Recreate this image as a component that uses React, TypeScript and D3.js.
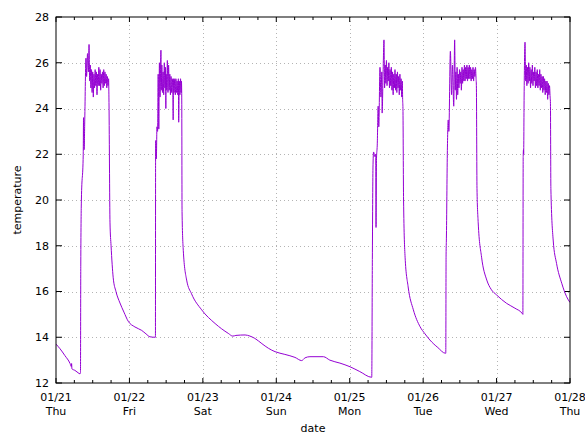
import React from "react";
import * as d3 from "d3";

// hours since 2021-01-21 00:00, temperature
const coolThu: [number, number][] = [
  [0, 13.7], [1.3, 13.5], [2.9, 13.2], [4.6, 12.85], [5.0, 12.72], [5.1, 12.85], [5.2, 12.62],
  [6.2, 12.55], [7.2, 12.45], [7.85, 12.4], [8.0, 12.45],
];
const heatThu: [number, number][] = [
  [8.1, 17.2], [8.3, 20.0], [8.9, 22.0], [9.0, 23.6], [9.2, 22.2], [9.4, 23.5], [9.8, 26.2],
  [10.0, 25.4], [10.3, 26.4], [10.6, 25.6], [10.8, 26.8],
  [11.0, 25.2], [11.2, 25.9], [11.4, 24.9], [11.6, 25.7], [11.8, 24.7], [12.0, 25.6], [12.2, 24.5],
  [12.4, 25.5], [12.6, 24.9], [12.8, 25.7], [13.0, 25.0], [13.2, 25.6], [13.4, 24.6], [13.6, 25.5],
  [13.8, 25.0], [14.0, 25.8], [14.2, 25.0], [14.4, 25.7], [14.6, 24.8], [14.8, 25.5], [15.0, 25.1],
  [15.2, 25.6], [15.4, 24.9], [15.6, 25.7], [15.8, 25.0], [16.0, 25.6], [16.2, 25.1], [16.4, 25.5],
  [16.6, 24.9], [16.8, 25.4], [17.0, 25.0], [17.2, 25.3], [17.3, 24.5],
];
const coolFri: [number, number][] = [
  [17.65, 19.0], [18.0, 18.0], [18.7, 16.6], [19.6, 16.0], [20.9, 15.5], [22.2, 15.1], [23.6, 14.7],
  [25.8, 14.45], [28.0, 14.3], [29.4, 14.15], [30.7, 14.02], [32.4, 14.0], [32.5, 14.0],
];
const heatFri: [number, number][] = [
  [32.55, 21.7], [32.6, 22.6], [32.8, 21.8], [33.0, 23.2], [33.2, 23.0], [33.4, 25.5], [33.6, 23.1],
  [33.8, 26.0], [34.0, 24.5], [34.3, 26.55],
  [34.4, 24.8], [34.6, 25.9], [34.8, 24.7], [35.0, 25.6], [35.2, 24.6], [35.4, 26.0], [35.6, 24.9],
  [35.8, 25.8], [35.9, 24.0], [36.0, 25.5], [36.2, 24.8], [36.4, 26.1], [36.6, 24.7], [36.8, 25.9],
  [37.0, 24.8], [37.2, 25.5], [37.4, 24.6], [37.6, 25.4], [37.8, 24.7], [38.0, 25.3], [38.2, 24.6],
  [38.3, 23.5], [38.4, 25.3], [38.6, 24.7], [38.8, 25.3], [39.0, 24.6], [39.2, 25.3], [39.4, 24.7],
  [39.6, 25.2], [39.8, 24.6], [40.0, 25.3], [40.1, 23.4], [40.3, 25.2], [40.5, 24.6], [40.7, 25.3],
  [40.9, 24.7], [41.0, 25.2], [41.1, 24.5],
];
const coolWeekend: [number, number][] = [
  [41.2, 19.5], [41.6, 17.8], [42.7, 16.5], [44.3, 15.9], [47.6, 15.2], [52.0, 14.6], [56.3, 14.17],
  [57.8, 14.05], [58.8, 14.08], [61.8, 14.1], [63.4, 14.05], [65.0, 13.95], [67.3, 13.72],
  [69.4, 13.52], [71.6, 13.37], [74.8, 13.25], [78.1, 13.12], [80.3, 12.98], [81.4, 13.1],
  [83.0, 13.15], [87.4, 13.15], [89.5, 13.0], [92.8, 12.87], [96.1, 12.71], [99.3, 12.5],
  [103.2, 12.25],
];
const heatMon: [number, number][] = [
  [103.4, 17.4], [103.6, 21.4], [103.8, 22.1], [104.2, 21.9], [104.5, 22.0], [104.6, 18.8],
  [104.75, 21.8], [105.0, 22.4], [105.3, 24.1], [105.5, 23.2], [105.9, 25.8], [106.2, 24.5],
  [106.5, 25.6], [106.6, 23.8], [106.9, 25.5], [107.2, 27.0],
  [107.4, 24.9], [107.6, 25.9], [107.8, 25.1], [108.0, 26.1], [108.2, 25.0], [108.4, 25.8],
  [108.6, 25.2], [108.8, 26.0], [109.0, 24.9], [109.2, 25.7], [109.4, 25.0], [109.6, 25.8],
  [109.8, 24.8], [110.0, 25.6], [110.2, 24.6], [110.4, 25.5], [110.6, 24.9], [110.8, 25.7],
  [111.0, 24.8], [111.2, 25.5], [111.4, 24.7], [111.6, 25.6], [111.8, 24.9], [112.0, 25.4],
  [112.2, 24.6], [112.4, 25.5], [112.6, 24.8], [112.8, 25.3], [113.0, 24.5], [113.2, 25.2],
  [113.3, 24.4],
];
const coolMon: [number, number][] = [
  [113.4, 24.0], [113.6, 20.0], [114.1, 17.5], [115.1, 16.2], [116.8, 15.2], [119.0, 14.46],
  [120.6, 14.15], [122.2, 13.88], [124.8, 13.55], [127.3, 13.3], [127.4, 13.3],
];
const heatTue: [number, number][] = [
  [127.5, 17.6], [127.6, 18.3], [127.9, 22.0], [128.2, 23.5], [128.4, 23.0], [128.9, 26.5],
  [129.3, 24.6], [129.6, 25.9], [130.0, 24.1], [130.3, 27.0],
  [130.5, 24.8], [130.7, 25.6], [130.9, 24.4], [131.1, 25.8], [131.3, 24.6], [131.5, 25.5],
  [131.7, 24.9], [131.9, 25.7], [132.1, 25.1], [132.3, 25.6], [132.5, 24.8], [132.7, 25.8],
  [132.9, 25.1], [133.1, 25.7], [133.3, 25.2], [133.5, 25.9], [133.7, 25.2], [133.9, 25.8],
  [134.1, 25.3], [134.3, 25.9], [134.5, 25.2], [134.7, 25.8], [134.9, 25.3], [135.1, 25.9],
  [135.3, 25.3], [135.5, 25.8], [135.7, 25.2], [135.9, 25.7], [136.1, 25.3], [136.3, 25.8],
  [136.5, 25.2], [136.7, 25.7], [136.9, 25.4], [137.1, 25.8], [137.3, 25.3], [137.4, 25.0],
];
const coolTue: [number, number][] = [
  [137.6, 20.5], [138.0, 19.0], [139.1, 17.5], [140.8, 16.5], [142.2, 16.1], [144.0, 15.85],
  [147.3, 15.48], [150.0, 15.27], [152.5, 15.02], [152.6, 15.0],
];
const heatWed: [number, number][] = [
  [152.7, 21.9], [152.8, 22.2], [152.85, 22.0], [153.0, 24.5], [153.3, 26.9],
  [153.5, 25.2], [153.7, 25.9], [153.9, 25.0], [154.1, 25.8], [154.3, 25.1], [154.5, 26.0],
  [154.7, 25.2], [154.9, 25.8], [155.1, 24.9], [155.3, 25.7], [155.5, 25.1], [155.7, 25.9],
  [155.9, 25.0], [156.1, 25.6], [156.3, 25.2], [156.5, 25.8], [156.7, 24.9], [156.9, 25.6],
  [157.1, 25.0], [157.3, 25.7], [157.5, 24.9], [157.7, 25.5], [157.9, 25.0], [158.1, 25.7],
  [158.3, 24.8], [158.5, 25.5], [158.7, 24.9], [158.9, 25.4], [159.1, 24.7], [159.3, 25.4],
  [159.5, 24.8], [159.7, 25.3], [159.9, 24.6], [160.1, 25.2], [160.3, 24.7], [160.5, 25.2],
  [160.7, 24.4], [160.9, 25.1], [161.1, 24.6], [161.3, 25.0], [161.5, 24.5], [161.6, 24.3],
];
const coolWed: [number, number][] = [
  [161.75, 20.5], [162.5, 18.25], [163.6, 17.23], [165.3, 16.36], [166.9, 15.77], [168.0, 15.52],
];

const dateLabels = ["01/21", "01/22", "01/23", "01/24", "01/25", "01/26", "01/27", "01/28"];
const weekdayLabels = ["Thu", "Fri", "Sat", "Sun", "Mon", "Tue", "Wed", "Thu"];
const yTicks = [12, 14, 16, 18, 20, 22, 24, 26, 28];

const W = 585;
const H = 436;
const M = { left: 56, right: 570, top: 17, bottom: 383 };
const FONT = "'DejaVu Sans', sans-serif";

export default function App() {
  const series = [
    ...coolThu, ...heatThu, ...coolFri, ...heatFri, ...coolWeekend, ...heatMon,
    ...coolMon, ...heatTue, ...coolTue, ...heatWed, ...coolWed,
  ];
  const x = d3.scaleLinear().domain([0, 168]).range([M.left, M.right]);
  const y = d3.scaleLinear().domain([12, 28]).range([M.bottom, M.top]);
  const line = d3
    .line<[number, number]>()
    .x((d) => x(d[0]))
    .y((d) => y(d[1]))
    .curve(d3.curveMonotoneX);

  const dayTicks = dateLabels.map((_, i) => i * 24);
  const minorTicks = d3.range(0, 168, 6).filter((h) => h % 24 !== 0);

  return (
    <svg
      width={W}
      height={H}
      style={{ position: "absolute", left: 0, top: 0, background: "#fff" }}
      fontFamily={FONT}
    >
      <defs>
        <clipPath id="plot">
          <rect x={M.left} y={M.top} width={M.right - M.left} height={M.bottom - M.top} />
        </clipPath>
      </defs>
      {/* grid */}
      {yTicks.slice(1, -1).map((t) => (
        <line
          key={"gy" + t}
          x1={M.left}
          x2={M.right}
          y1={Math.round(y(t)) + 0.5}
          y2={Math.round(y(t)) + 0.5}
          stroke="#b4b4b4"
          strokeDasharray="1,3"
        />
      ))}
      {dayTicks.slice(1, -1).map((t) => (
        <line
          key={"gx" + t}
          x1={Math.round(x(t)) + 0.5}
          x2={Math.round(x(t)) + 0.5}
          y1={M.top}
          y2={M.bottom}
          stroke="#b4b4b4"
          strokeDasharray="1,3"
        />
      ))}
      {/* ticks */}
      {yTicks.map((t) => (
        <g key={"ty" + t}>
          <line x1={M.left} x2={M.left + 6} y1={y(t)} y2={y(t)} stroke="#000" />
          <line x1={M.right} x2={M.right - 6} y1={y(t)} y2={y(t)} stroke="#000" />
          <text
            x={M.left - 7}
            y={y(t)}
            dy="0.36em"
            textAnchor="end"
            fontSize={11}
            fill="#000"
          >
            {t}
          </text>
        </g>
      ))}
      {dayTicks.map((t, i) => (
        <g key={"tx" + t}>
          <line x1={x(t)} x2={x(t)} y1={M.bottom} y2={M.bottom - 5} stroke="#000" />
          <line x1={x(t)} x2={x(t)} y1={M.top} y2={M.top + 5} stroke="#000" />
          <text x={x(t)} y={401} textAnchor="middle" fontSize={11} fill="#000">
            {dateLabels[i]}
          </text>
          <text x={x(t)} y={415} textAnchor="middle" fontSize={11} fill="#000">
            {weekdayLabels[i]}
          </text>
        </g>
      ))}
      {minorTicks.map((t) => (
        <g key={"mx" + t}>
          <line x1={x(t)} x2={x(t)} y1={M.bottom} y2={M.bottom - 3} stroke="#000" />
          <line x1={x(t)} x2={x(t)} y1={M.top} y2={M.top + 3} stroke="#000" />
        </g>
      ))}
      {/* data */}
      <path
        d={line(series) || ""}
        fill="none"
        stroke="#9400d3"
        strokeWidth={1}
        clipPath="url(#plot)"
      />
      {/* border */}
      <rect
        x={M.left}
        y={M.top}
        width={M.right - M.left}
        height={M.bottom - M.top}
        fill="none"
        stroke="#000"
      />
      {/* axis labels */}
      <text
        transform={`translate(21,${(M.top + M.bottom) / 2}) rotate(-90)`}
        textAnchor="middle"
        fontSize={11}
        fill="#000"
      >
        temperature
      </text>
      <text x={(M.left + M.right) / 2} y={432} textAnchor="middle" fontSize={11} fill="#000">
        date
      </text>
    </svg>
  );
}
